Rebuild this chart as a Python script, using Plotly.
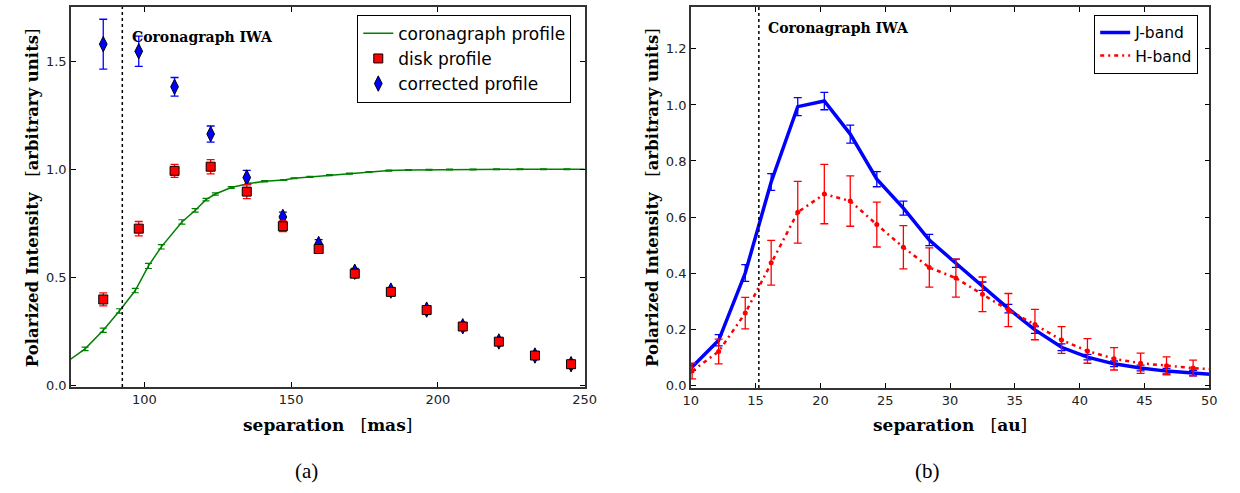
import plotly.graph_objects as go

# ---------------- Panel (a) data ----------------
coro_x = [73.0, 79.8, 86.0, 91.5, 96.9, 101.4, 105.8, 112.8, 117.3, 121.0, 124.2, 129.6,
          135.3, 141.0, 147.5, 151.0, 156.4, 163.1, 169.9, 176.6, 183.3, 190.0, 197.0,
          204.0, 212.0, 220.0, 228.0, 236.0, 244.0, 252.0]
coro_y = [0.105, 0.171, 0.257, 0.346, 0.440, 0.554, 0.642, 0.757, 0.810, 0.860, 0.886, 0.916,
          0.933, 0.945, 0.951, 0.959, 0.965, 0.973, 0.980, 0.988, 0.994, 0.997, 0.998,
          0.999, 0.999, 1.000, 1.000, 1.000, 1.000, 1.000]
coro_err = [0.0, 0.008, 0.01, 0.01, 0.01, 0.012, 0.01, 0.01, 0.008, 0.006, 0.005, 0.004,
            0.003, 0.003, 0.002, 0.002, 0.002, 0.002, 0.002, 0.002, 0.002, 0.002, 0.002,
            0.002, 0.002, 0.002, 0.002, 0.002, 0.002, 0.0]

sep_mas = [86.0, 98.1, 110.3, 122.6, 134.9, 147.2, 159.4, 171.7, 184.0, 196.2, 208.5, 220.8, 233.1, 245.4]
disk_y = [0.399, 0.726, 0.993, 1.012, 0.897, 0.737, 0.632, 0.518, 0.434, 0.350, 0.274, 0.204, 0.140, 0.100]
disk_err = [0.030, 0.033, 0.030, 0.033, 0.032, 0.025, 0.020, 0.015, 0.012, 0.012, 0.010, 0.010, 0.010, 0.010]
corr_y = [1.578, 1.545, 1.381, 1.163, 0.962, 0.780, 0.655, 0.527, 0.440, 0.352, 0.275, 0.205, 0.140, 0.100]
corr_err = [0.115, 0.070, 0.043, 0.037, 0.033, 0.022, 0.020, 0.015, 0.010, 0.010, 0.008, 0.008, 0.008, 0.008]

iwa_mas = 92.5

# ---------------- Panel (b) data ----------------
sep_au = [10.1, 12.15, 14.2, 16.2, 18.25, 20.3, 22.3, 24.35, 26.4, 28.4, 30.45, 32.5,
          34.5, 36.55, 38.6, 40.6, 42.65, 44.7, 46.7, 48.75, 50.8]
j_y = [0.065, 0.160, 0.400, 0.725, 0.994, 1.014, 0.896, 0.735, 0.632, 0.518, 0.435, 0.353,
       0.273, 0.197, 0.135, 0.100, 0.076, 0.061, 0.050, 0.043, 0.036]
j_err = [0.012, 0.020, 0.030, 0.030, 0.032, 0.031, 0.032, 0.027, 0.025, 0.020, 0.015, 0.015,
         0.015, 0.012, 0.012, 0.010, 0.010, 0.010, 0.010, 0.010, 0.0]
h_y = [0.050, 0.120, 0.257, 0.437, 0.617, 0.682, 0.657, 0.573, 0.492, 0.420, 0.382, 0.324,
       0.268, 0.216, 0.161, 0.122, 0.094, 0.078, 0.069, 0.061, 0.055]
h_err = [0.028, 0.044, 0.056, 0.080, 0.110, 0.106, 0.090, 0.080, 0.077, 0.070, 0.068, 0.062,
         0.059, 0.054, 0.048, 0.044, 0.040, 0.036, 0.032, 0.028, 0.0]

iwa_au = 15.25

# ---------------- styling ----------------
SERIF = "DejaVu Serif"
SANS = "DejaVu Sans"
GREEN = "#008000"
RED = "#ff0000"
BLUE = "#0000ff"

fig = go.Figure()

# Panel (a)
fig.add_trace(go.Scatter(
    x=coro_x, y=coro_y, mode="lines", name="coronagraph profile",
    line=dict(color=GREEN, width=1.5),
    error_y=dict(type="data", array=coro_err, color=GREEN, thickness=1.2, width=3.5),
    xaxis="x", yaxis="y", legend="legend", legendrank=1))
fig.add_trace(go.Scatter(
    x=sep_mas, y=corr_y, mode="markers", name="corrected profile",
    marker=dict(symbol="diamond-tall", size=11, color=BLUE, line=dict(color="black", width=1)),
    error_y=dict(type="data", array=corr_err, color=BLUE, thickness=1.3, width=4),
    xaxis="x", yaxis="y", legend="legend", legendrank=3))
fig.add_trace(go.Scatter(
    x=sep_mas, y=disk_y, mode="markers", name="disk profile",
    marker=dict(symbol="square", size=9, color=RED, line=dict(color="black", width=1)),
    error_y=dict(type="data", array=disk_err, color=RED, thickness=1.3, width=4),
    xaxis="x", yaxis="y", legend="legend", legendrank=2))

# Panel (b)
fig.add_trace(go.Scatter(
    x=sep_au, y=j_y, mode="lines", name="J-band",
    line=dict(color=BLUE, width=3.5),
    error_y=dict(type="data", array=j_err, color=BLUE, thickness=1.3, width=4),
    xaxis="x2", yaxis="y2", legend="legend2"))
fig.add_trace(go.Scatter(
    x=sep_au, y=h_y, mode="lines", name="H-band",
    line=dict(color=RED, width=2.5, dash="4px,4px,2px,4px"),
    error_y=dict(type="data", array=h_err, color=RED, thickness=1.3, width=4),
    xaxis="x2", yaxis="y2", legend="legend2"))
fig.add_trace(go.Scatter(
    x=sep_au, y=h_y, mode="markers", name="H-band points", showlegend=False,
    marker=dict(color=RED, size=5),
    xaxis="x2", yaxis="y2"))

axis_common = dict(
    showgrid=False, zeroline=False, showline=True, linecolor="#333333", linewidth=1.5,
    mirror="allticks", ticks="inside", ticklen=5, tickwidth=1, tickcolor="black",
    tickfont=dict(family=SANS, size=13, color="#222222"),
)

fig.update_layout(
    width=1240, height=493,
    margin=dict(l=0, r=0, t=0, b=0),
    paper_bgcolor="white", plot_bgcolor="white",
    xaxis=dict(domain=[64 / 1240, 586 / 1240], range=[75, 250],
               tickvals=[100, 150, 200, 250], anchor="y", **axis_common),
    yaxis=dict(domain=[1 - 391.7 / 493, 1 - 7 / 493], range=[-0.005, 1.75],
               tickvals=[0.0, 0.5, 1.0, 1.5], ticktext=["0.0", "0.5", "1.0", "1.5"],
               anchor="x", **axis_common),
    xaxis2=dict(domain=[694 / 1240, 1221 / 1240], range=[10, 50],
                tickvals=[10, 15, 20, 25, 30, 35, 40, 45, 50], anchor="y2", **axis_common),
    yaxis2=dict(domain=[1 - 392.7 / 493, 1 - 7 / 493], range=[-0.01, 1.35],
                tickvals=[0.0, 0.2, 0.4, 0.6, 0.8, 1.0, 1.2],
                ticktext=["0.0", "0.2", "0.4", "0.6", "0.8", "1.0", "1.2"],
                anchor="x2", **axis_common),
    legend=dict(x=355 / 1240, y=1 - 15 / 493, xanchor="left", yanchor="top",
                bordercolor="black", borderwidth=1, bgcolor="white",
                font=dict(family=SANS, size=17, color="black"), tracegroupgap=0),
    legend2=dict(x=1104 / 1240, y=1 - 15 / 493, xanchor="left", yanchor="top",
                 bordercolor="black", borderwidth=1, bgcolor="white",
                 font=dict(family=SANS, size=15.5, color="black")),
    showlegend=True,
)

# IWA lines
fig.add_shape(type="line", xref="x", yref="y domain", x0=iwa_mas, x1=iwa_mas, y0=0, y1=1,
              line=dict(color="black", width=1.5, dash="dot"))
fig.add_shape(type="line", xref="x2", yref="y2 domain", x0=iwa_au, x1=iwa_au, y0=0, y1=1,
              line=dict(color="black", width=1.5, dash="dot"))

title_font = dict(family=SERIF, size=17, color="black")
anns = [
    dict(text="<b>Coronagraph IWA</b>", x=124 / 1240, y=1 - 37 / 493, xanchor="left",
         yanchor="middle", font=dict(family=SERIF, size=14, color="black")),
    dict(text="<b>Coronagraph IWA</b>", x=770 / 1240, y=1 - 28 / 493, xanchor="left",
         yanchor="middle", font=dict(family=SERIF, size=14, color="black")),
    dict(text="<b>separation</b>   [<b>mas</b>]", x=325 / 1240, y=1 - 430 / 493,
         xanchor="center", yanchor="middle", font=title_font),
    dict(text="<b>separation</b>   [<b>au</b>]", x=957 / 1240, y=1 - 430 / 493,
         xanchor="center", yanchor="middle", font=title_font),
    dict(text="<b>Polarized Intensity</b>   [<b>arbitrary units</b>]", x=25 / 1240,
         y=1 - 200 / 493, xanchor="center", yanchor="middle", textangle=-90,
         font=dict(family=SERIF, size=16.5, color="black")),
    dict(text="<b>Polarized Intensity</b>   [<b>arbitrary units</b>]", x=655 / 1240,
         y=1 - 200 / 493, xanchor="center", yanchor="middle", textangle=-90,
         font=dict(family=SERIF, size=16.5, color="black")),
    dict(text="(a)", x=303 / 1240, y=1 - 477 / 493, xanchor="center", yanchor="middle",
         font=dict(family="Liberation Serif", size=21, color="black")),
    dict(text="(b)", x=935 / 1240, y=1 - 477 / 493, xanchor="center", yanchor="middle",
         font=dict(family="Liberation Serif", size=21, color="black")),
]
for a in anns:
    a.update(xref="paper", yref="paper", showarrow=False)
    fig.add_annotation(**a)

fig.write_html("out.html", config={"displayModeBar": False},
               post_script="document.body.style.margin='0';document.body.style.overflow='hidden';")
